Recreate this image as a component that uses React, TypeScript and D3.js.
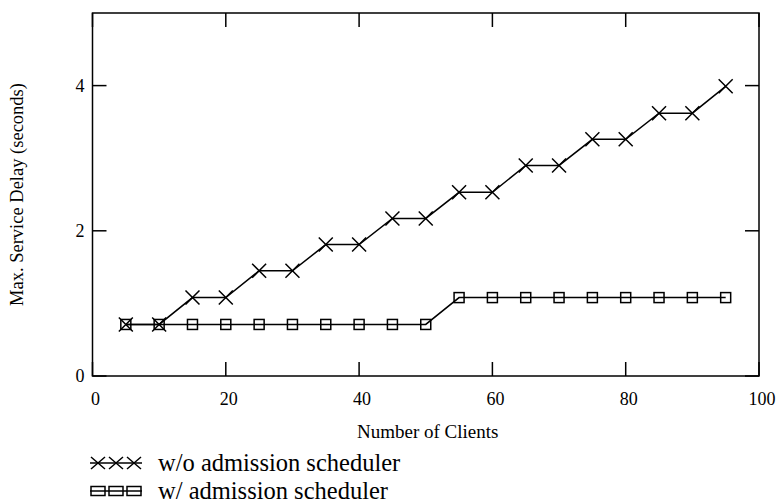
import React, { useEffect, useRef } from 'react';
import * as d3 from 'd3';

// number of clients
const clients = [5, 10, 15, 20, 25, 30, 35, 40, 45, 50, 55, 60, 65, 70, 75, 80, 85, 90, 95];
// max service delay (s) without admission scheduler
const withoutSched = [0.71, 0.71, 1.08, 1.08, 1.45, 1.45, 1.81, 1.81, 2.17, 2.17, 2.53, 2.53, 2.9, 2.9, 3.26, 3.26, 3.62, 3.62, 3.99];
// max service delay (s) with admission scheduler
const withSched = [0.71, 0.71, 0.71, 0.71, 0.71, 0.71, 0.71, 0.71, 0.71, 0.71, 1.08, 1.08, 1.08, 1.08, 1.08, 1.08, 1.08, 1.08, 1.08];

const xTicks = [0, 20, 40, 60, 80, 100];
const yTicks = [0, 2, 4];
const seriesNames = ['w/o admission scheduler', 'w/ admission scheduler'];

const W = 776;
const H = 503;
const margin = { left: 92.5, right: 17, top: 13, bottom: 127 };
const FONT = 'Liberation Serif, Times New Roman, DejaVu Serif, serif';

const App = () => {
  const ref = useRef<SVGSVGElement>(null);

  useEffect(() => {
    const svg = d3.select(ref.current);
    svg.selectAll('*').remove();

    const x = d3.scaleLinear().domain([0, 100]).range([margin.left, W - margin.right]);
    const y = d3.scaleLinear().domain([0, 5]).range([H - margin.bottom, margin.top]);
    const tickLen = 14;

    const g = svg.append('g').style('font-family', FONT);

    // frame
    g.append('rect')
      .attr('x', x(0)).attr('y', y(5))
      .attr('width', x(100) - x(0)).attr('height', y(0) - y(5))
      .attr('fill', 'none').attr('stroke', '#000').attr('stroke-width', 1.5);

    // x ticks, bottom and top, pointing inward
    xTicks.forEach(t => {
      g.append('line').attr('x1', x(t)).attr('x2', x(t))
        .attr('y1', y(0)).attr('y2', y(0) - tickLen)
        .attr('stroke', '#000').attr('stroke-width', 1.5);
      g.append('line').attr('x1', x(t)).attr('x2', x(t))
        .attr('y1', y(5)).attr('y2', y(5) + tickLen)
        .attr('stroke', '#000').attr('stroke-width', 1.5);
      g.append('text').attr('x', x(t) + 3).attr('y', y(0) + 29)
        .attr('text-anchor', 'middle').attr('font-size', 18)
        .text(t);
    });

    yTicks.forEach(t => {
      g.append('line').attr('x1', x(0)).attr('x2', x(0) + tickLen)
        .attr('y1', y(t)).attr('y2', y(t))
        .attr('stroke', '#000').attr('stroke-width', 1.5);
      g.append('line').attr('x1', x(100)).attr('x2', x(100) - tickLen)
        .attr('y1', y(t)).attr('y2', y(t))
        .attr('stroke', '#000').attr('stroke-width', 1.5);
      g.append('text').attr('x', x(0) - 8).attr('y', y(t) + 6)
        .attr('text-anchor', 'end').attr('font-size', 18)
        .text(t);
    });

    // axis titles
    g.append('text').attr('x', (x(0) + x(100)) / 2 + 2).attr('y', 438)
      .attr('text-anchor', 'middle').attr('font-size', 19)
      .text('Number of Clients');
    g.append('text')
      .attr('transform', `translate(23, ${(y(0) + y(5)) / 2}) rotate(-90)`)
      .attr('text-anchor', 'middle').attr('font-size', 18.5)
      .text('Max. Service Delay (seconds)');

    const line = d3.line<[number, number]>().x(d => x(d[0])).y(d => y(d[1]));
    const drawX = (sel: any, cx: number, cy: number, rx: number, ry: number) => {
      sel.append('path')
        .attr('d', `M${cx - rx},${cy - ry}L${cx + rx},${cy + ry}M${cx - rx},${cy + ry}L${cx + rx},${cy - ry}`)
        .attr('stroke', '#000').attr('stroke-width', 1.5).attr('fill', 'none');
    };
    const drawSq = (sel: any, cx: number, cy: number, rx: number, ry: number) => {
      sel.append('rect').attr('x', cx - rx).attr('y', cy - ry)
        .attr('width', 2 * rx).attr('height', 2 * ry)
        .attr('stroke', '#000').attr('stroke-width', 1.5).attr('fill', 'none');
    };

    const s1 = clients.map((c, i) => [c, withoutSched[i]] as [number, number]);
    const s2 = clients.map((c, i) => [c, withSched[i]] as [number, number]);

    g.append('path').attr('d', line(s1)).attr('fill', 'none').attr('stroke', '#000').attr('stroke-width', 1.5);
    g.append('path').attr('d', line(s2)).attr('fill', 'none').attr('stroke', '#000').attr('stroke-width', 1.5);
    s1.forEach(d => drawX(g, x(d[0]), y(d[1]), 7, 7));
    s2.forEach(d => drawSq(g, x(d[0]), y(d[1]), 5, 5));

    // legend
    const legY = [463, 491];
    const legX = [98, 116, 134];
    seriesNames.forEach((name, i) => {
      g.append('line').attr('x1', 90).attr('x2', 142).attr('y1', legY[i]).attr('y2', legY[i])
        .attr('stroke', '#000').attr('stroke-width', 1.5);
      legX.forEach(lx => (i === 0 ? drawX(g, lx, legY[i], 7, 6) : drawSq(g, lx, legY[i], 7, 4.5)));
      g.append('text').attr('x', 158).attr('y', legY[i] + 8)
        .attr('font-size', 24.5)
        .text(name);
    });
  }, []);

  return (
    <svg ref={ref} width={W} height={H}
      style={{ position: 'absolute', left: 0, top: 0, background: '#fff' }} />
  );
};

export default App;
